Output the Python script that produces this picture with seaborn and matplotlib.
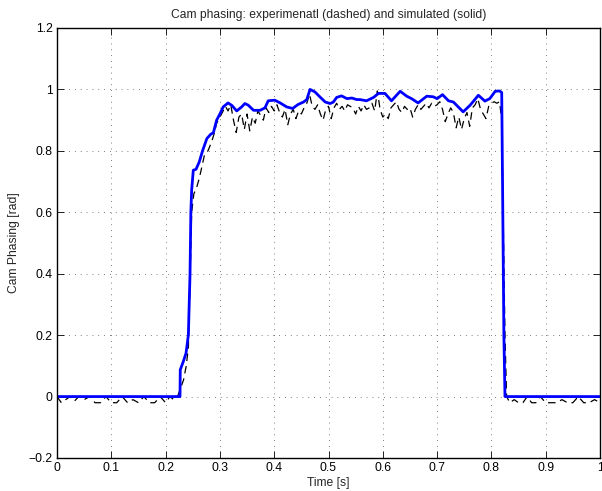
import matplotlib
matplotlib.use("Agg")
import matplotlib.pyplot as plt
import seaborn as sns
import pandas as pd

# ---------------------------------------------------------
# data
# ---------------------------------------------------------
t_sim = [0.0, 0.2265, 0.2270, 0.2326, 0.2376, 0.2419, 0.245, 0.2465, 0.248, 0.251,
         0.256, 0.262, 0.268, 0.276, 0.283, 0.288, 0.294, 0.300, 0.306, 0.315,
         0.322, 0.331, 0.340, 0.346, 0.352, 0.362, 0.374, 0.383, 0.389, 0.401,
         0.411, 0.423, 0.434, 0.444, 0.454, 0.460, 0.466, 0.475, 0.484, 0.494,
         0.503, 0.509, 0.515, 0.524, 0.534, 0.543, 0.552, 0.558, 0.570, 0.583,
         0.592, 0.604, 0.616, 0.632, 0.644, 0.653, 0.665, 0.681, 0.693, 0.700,
         0.710, 0.721, 0.730, 0.748, 0.761, 0.776, 0.788, 0.797, 0.807, 0.815,
         0.819, 0.821, 0.823, 0.825, 1.0]
v_sim = [0, 0, 0.087, 0.114, 0.141, 0.20, 0.40, 0.60, 0.672, 0.737,
         0.74, 0.764, 0.80, 0.84, 0.854, 0.859, 0.90, 0.92, 0.943, 0.956,
         0.948, 0.93, 0.943, 0.954, 0.949, 0.932, 0.932, 0.94, 0.963, 0.965,
         0.956, 0.943, 0.938, 0.951, 0.959, 0.967, 1.0, 0.992, 0.976, 0.959,
         0.954, 0.959, 0.974, 0.979, 0.97, 0.972, 0.967, 0.967, 0.963, 0.974,
         0.987, 0.987, 0.963, 0.994, 0.978, 0.97, 0.956, 0.978, 0.976, 0.97,
         0.983, 0.963, 0.959, 0.927, 0.949, 0.981, 0.962, 0.97, 0.994, 0.995,
         0.99, 0.60, 0.20, 0.0, 0.0]

t_exp = [0.000, 0.008, 0.016, 0.024, 0.032, 0.040, 0.050, 0.060, 0.070, 0.080,
         0.090, 0.100, 0.110, 0.120, 0.130, 0.140, 0.150, 0.160, 0.170, 0.180,
         0.190, 0.200, 0.208, 0.215, 0.222, 0.228, 0.233, 0.238, 0.242, 0.245,
         0.248, 0.252, 0.257, 0.262, 0.267, 0.272, 0.278, 0.285, 0.290, 0.294,
         0.300, 0.306,
         0.310, 0.315, 0.320, 0.325, 0.330, 0.335, 0.340, 0.345, 0.350, 0.355,
         0.360, 0.365, 0.370, 0.375, 0.380, 0.385, 0.390, 0.395, 0.400, 0.405,
         0.410, 0.415, 0.420, 0.425, 0.430, 0.435, 0.440, 0.445, 0.450, 0.455,
         0.460, 0.465, 0.470, 0.475, 0.480, 0.485, 0.490, 0.495, 0.500, 0.505,
         0.510, 0.515, 0.520, 0.525, 0.530, 0.535, 0.540, 0.545, 0.550, 0.555,
         0.560, 0.565, 0.570, 0.575, 0.580, 0.585, 0.590, 0.595, 0.600, 0.605,
         0.610, 0.615, 0.620, 0.625, 0.630, 0.635, 0.640, 0.645, 0.650, 0.655,
         0.660, 0.665, 0.670, 0.675, 0.680, 0.685, 0.690, 0.695, 0.700, 0.705,
         0.710, 0.715, 0.720, 0.725, 0.730, 0.735, 0.740, 0.745, 0.750, 0.755,
         0.760, 0.765, 0.770, 0.775, 0.780, 0.785, 0.790, 0.795, 0.800, 0.805,
         0.810, 0.815,
         0.819, 0.822, 0.825, 0.828, 0.834, 0.842, 0.850, 0.858, 0.866, 0.874,
         0.882, 0.890, 0.900, 0.910, 0.920, 0.930, 0.940, 0.950, 0.960, 0.970,
         0.980, 0.990, 1.000]
v_exp = [0.0, -0.02, -0.01, 0.0, -0.015, 0.0, -0.01, 0.0, -0.02, -0.02,
         0.0, -0.02, -0.02, 0.0, -0.02, -0.01, -0.02, 0.0, -0.02, -0.02,
         0.0, -0.02, 0.0, -0.01, 0.0, 0.03, 0.054, 0.10, 0.16, 0.38,
         0.60, 0.66, 0.68, 0.71, 0.75, 0.79, 0.80, 0.83, 0.86, 0.89,
         0.91, 0.93,
         0.945, 0.93, 0.95, 0.90, 0.86, 0.91, 0.92, 0.87, 0.92, 0.865,
         0.91, 0.89, 0.93, 0.915, 0.90, 0.94, 0.925, 0.945, 0.93, 0.95,
         0.925, 0.91, 0.935, 0.885, 0.92, 0.935, 0.905, 0.93, 0.92, 0.94,
         0.955, 0.985, 0.945, 0.935, 0.95, 0.92, 0.90, 0.935, 0.945, 0.905,
         0.94, 0.955, 0.935, 0.945, 0.93, 0.95, 0.945, 0.94, 0.92, 0.945,
         0.93, 0.95, 0.935, 0.94, 0.955, 0.93, 0.995, 0.935, 0.91, 0.92,
         0.905, 0.94, 0.95, 0.96, 0.935, 0.925, 0.945, 0.935, 0.94, 0.91,
         0.935, 0.95, 0.935, 0.945, 0.955, 0.94, 0.955, 0.945, 0.95, 0.96,
         0.935, 0.895, 0.92, 0.94, 0.925, 0.875, 0.91, 0.87, 0.905, 0.925,
         0.88, 0.94, 0.95, 0.97, 0.935, 0.92, 0.905, 0.945, 0.955, 0.96,
         0.955, 0.96,
         0.90, 0.55, 0.20, 0.0, -0.02, -0.01, -0.02, -0.02, 0.0, -0.02,
         -0.02, 0.0, -0.02, -0.02, -0.02, -0.01, -0.02, -0.02, 0.0, -0.02,
         -0.02, -0.01, -0.02]

x_ticks = [0, 0.1, 0.2, 0.3, 0.4, 0.5, 0.6, 0.7, 0.8, 0.9, 1]
y_ticks = [-0.2, 0, 0.2, 0.4, 0.6, 0.8, 1, 1.2]
x_labels = ['0', '0.1', '0.2', '0.3', '0.4', '0.5', '0.6', '0.7', '0.8', '0.9', '1']
y_labels = ['\u22120.2', '0', '0.2', '0.4', '0.6', '0.8', '1', '1.2']

df_exp = pd.DataFrame({'Time': t_exp, 'Phase': v_exp})
df_sim = pd.DataFrame({'Time': t_sim, 'Phase': v_sim})

# ---------------------------------------------------------
# MATLAB-ish look
# ---------------------------------------------------------
sns.set_theme(style="ticks")
plt.rcParams['font.family'] = ['Liberation Sans', 'DejaVu Sans']
plt.rcParams['font.size'] = 8.7
plt.rcParams['xtick.direction'] = 'in'
plt.rcParams['ytick.direction'] = 'in'

fig = plt.figure(figsize=(6.02, 4.91), dpi=100)
ax = fig.add_axes([57 / 602, 33 / 491, 543 / 602, 430 / 491])

sns.lineplot(data=df_exp, x='Time', y='Phase', sort=False, estimator=None,
             color='black', linewidth=0.9, linestyle=(0, (6, 4)), ax=ax)
sns.lineplot(data=df_sim, x='Time', y='Phase', sort=False, estimator=None,
             color='#0000ff', linewidth=2.0, ax=ax)

ax.set_xlim(0, 1)
ax.set_ylim(-0.2, 1.2)
ax.set_xticks(x_ticks)
ax.set_yticks(y_ticks)
ax.set_xticklabels(x_labels)
ax.set_yticklabels(y_labels)
ax.tick_params(axis='both', which='major', labelsize=8.7, length=5, width=0.6,
               top=True, right=True, color='black', labelcolor='black', pad=3)

ax.grid(True, color='#555555', linestyle=(0, (1, 6)), linewidth=0.6)

for sp in ax.spines.values():
    sp.set_visible(True)
    sp.set_color('black')
    sp.set_linewidth(1.0)

ax.set_title('Cam phasing: experimenatl (dashed) and simulated (solid)', fontsize=8.7, pad=7)
ax.set_xlabel('Time [s]', fontsize=8.7, labelpad=2)
ax.set_ylabel('Cam Phasing [rad]', fontsize=8.7, labelpad=6)

fig.savefig('out.png', dpi=100)
plt.close()
